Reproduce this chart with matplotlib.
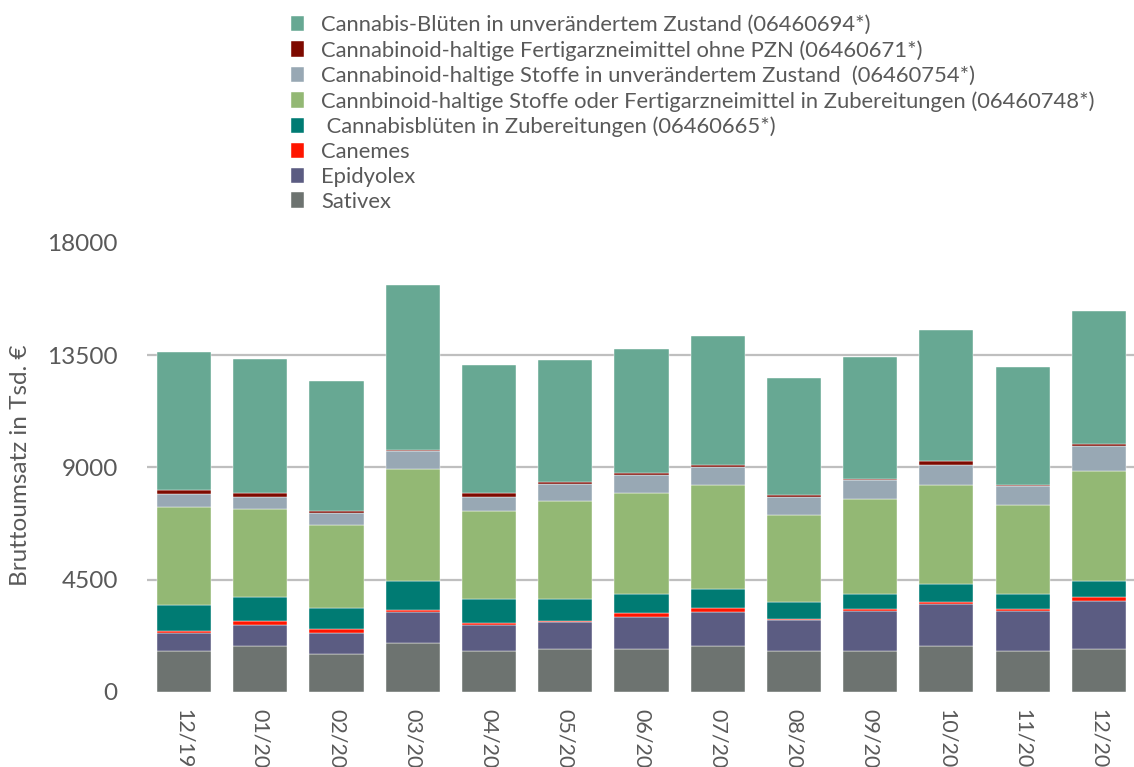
import matplotlib
matplotlib.use("Agg")
import matplotlib.pyplot as plt
import numpy as np

plt.rcParams['font.family'] = ['Lato', 'DejaVu Sans']

# months on the x axis
months = ['12/19', '01/20', '02/20', '03/20', '04/20', '05/20', '06/20',
          '07/20', '08/20', '09/20', '10/20', '11/20', '12/20']

# Bruttoumsatz in Tsd. EUR (bottom to top of the stack)
sativex = [1659, 1860, 1539, 1981, 1659, 1740, 1740, 1860, 1659, 1659, 1860, 1659, 1740]
epidyolex = [711, 817, 831, 1217, 1018, 1057, 1273, 1366, 1246, 1580, 1676, 1580, 1916]
canemes = [65, 188, 161, 81, 95, 68, 173, 161, 40, 68, 52, 68, 161]
bluten_zub = [1033, 924, 856, 1153, 937, 844, 723, 723, 643, 602, 723, 602, 615]
stoffe_zub = [3965, 3536, 3295, 4500, 3535, 3937, 4071, 4179, 3524, 3845, 3978, 3604, 4419]
stoffe_unv = [494, 495, 482, 736, 576, 711, 723, 736, 723, 736, 816, 750, 1017]
fam_ohne_pzn = [173, 175, 80, 40, 160, 53, 56, 56, 52, 52, 161, 54, 67]
bluten_unv = [5533, 5357, 5224, 6617, 5130, 4902, 4995, 5195, 4701, 4890, 5251, 4713, 5345]

series = [
    ('Sativex', sativex, '#6d7370'),
    ('Epidyolex', epidyolex, '#5b5c82'),
    ('Canemes', canemes, '#ff1500'),
    (' Cannabisblüten in Zubereitungen (06460665*)', bluten_zub, '#007b73'),
    ('Cannbinoid-haltige Stoffe oder Fertigarzneimittel in Zubereitungen (06460748*)', stoffe_zub, '#93b874'),
    ('Cannabinoid-haltige Stoffe in unverändertem Zustand  (06460754*)', stoffe_unv, '#98a8b4'),
    ('Cannabinoid-haltige Fertigarzneimittel ohne PZN (06460671*)', fam_ohne_pzn, '#7e0a00'),
    ('Cannabis-Blüten in unverändertem Zustand (06460694*)', bluten_unv, '#67a893'),
]

txt = '#595959'

fig = plt.figure(figsize=(11.34, 7.67), dpi=100)
ax = fig.add_axes([0.1296, 0.0978, 0.8704, 0.5854])

x = np.arange(len(months))
bottom = np.zeros(len(months))
handles = []
for name, vals, col in series:
    b = ax.bar(x, vals, width=0.71, bottom=bottom, color=col, label=name,
               edgecolor='white', linewidth=0.3, zorder=3)
    handles.append(b)
    bottom += np.array(vals)

ax.set_ylim(0, 18000)
ax.set_xlim(-0.485, 12.46)
ax.set_yticks([0, 4500, 9000, 13500, 18000])
ax.set_xticks(x)
ax.set_xticklabels(months, rotation=-90)
ax.tick_params(axis='y', length=0, pad=21, labelsize=17.5, labelcolor=txt)
ax.tick_params(axis='x', length=0, pad=12, labelsize=15.5, labelcolor=txt)

# grid only between 0 and the top tick
ax.yaxis.grid(True, color='#bfbfbf', linewidth=1.6, zorder=0)
ax.set_axisbelow(True)
gl = ax.get_ygridlines()
gl[0].set_visible(False)
gl[-1].set_visible(False)
for s in ax.spines.values():
    s.set_visible(False)

fig.text(0.018, 0.393, 'Bruttoumsatz in Tsd. €', rotation=90, ha='center', va='center',
         fontsize=17.5, color=txt)

leg = fig.legend(handles[::-1], [s[0] for s in series][::-1], loc='upper left',
                 bbox_to_anchor=(0.2435, 1.0), frameon=False, fontsize=15.8,
                 handlelength=0.6, handleheight=0.7, handletextpad=0.75,
                 labelspacing=0.223, borderaxespad=0.29)
for t in leg.get_texts():
    t.set_color(txt)

fig.savefig('out.png', dpi=100)
